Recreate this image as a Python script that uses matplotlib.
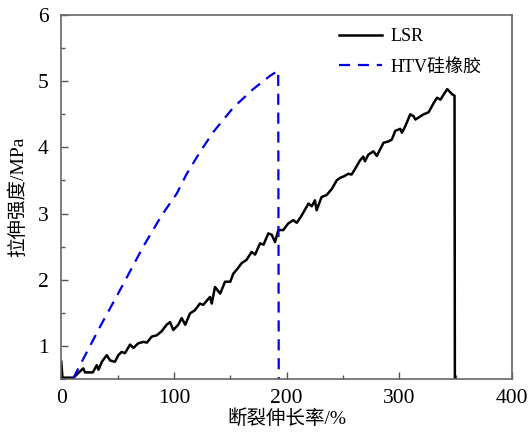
import matplotlib
matplotlib.use("Agg")
import matplotlib.pyplot as plt
from matplotlib.ticker import MultipleLocator

plt.rcParams['font.family'] = ['Liberation Serif', 'Noto Sans CJK SC', 'DejaVu Sans']
plt.rcParams['axes.unicode_minus'] = False

# LSR curve (elongation %, tensile strength MPa)
lsr_x = [0, 1, 11, 15, 19.5, 21, 28, 31.5, 33, 36, 40.3, 43.3, 47.6, 50.6, 53.6, 56.5,
         61, 64, 68.3, 72.8, 76, 80.2, 84.7, 89, 93.5, 96.5, 99.4, 103.8, 106.8, 110,
         114.2, 118.6, 123, 126, 132, 133.5, 136.4, 141, 145.3, 150, 152.6, 157, 160,
         164.4, 168.9, 172, 176.4, 179.5, 183.7, 186.7, 189.7, 192.6, 197, 201.4, 205.9,
         209, 213.3, 219.3, 222.3, 225.1, 226.6, 231, 235.5, 240, 244.4, 247.5, 250.5,
         254.7, 257.7, 260.6, 265, 268, 269.5, 272.5, 277, 280, 283, 286, 290.5, 293.4,
         296.4, 300.8, 302.3, 305.3, 309.7, 312.7, 314.2, 317, 321.6, 326, 330.5, 333.5,
         336.5, 339.4, 342.5, 345.4, 347, 349, 349.3]
lsr_y = [0.76, 0.52, 0.52, 0.59, 0.66, 0.60, 0.60, 0.71, 0.64, 0.76, 0.86, 0.78, 0.76, 0.86, 0.91, 0.89,
         1.02, 0.97, 1.04, 1.06, 1.05, 1.14, 1.16, 1.22, 1.32, 1.36, 1.24, 1.32, 1.42, 1.32,
         1.49, 1.54, 1.64, 1.62, 1.74, 1.64, 1.89, 1.79, 1.97, 1.97, 2.09, 2.18, 2.25,
         2.30, 2.42, 2.38, 2.55, 2.53, 2.70, 2.68, 2.57, 2.75, 2.75, 2.85, 2.90,
         2.86, 2.97, 3.15, 3.11, 3.20, 3.05, 3.25, 3.28, 3.37, 3.50, 3.54, 3.56,
         3.60, 3.59, 3.67, 3.80, 3.86, 3.79, 3.89, 3.94, 3.87, 3.97, 4.07, 4.09, 4.12,
         4.25, 4.28, 4.22, 4.32, 4.50, 4.47, 4.42, 4.45, 4.50, 4.53, 4.67, 4.75,
         4.72, 4.80, 4.88, 4.83, 4.80, 4.78, 0.5]

# HTV silicone rubber curve
htv_x = [10.5, 34.4, 52, 72.7, 89, 102.4, 111.3, 123.1, 134.8, 152.6, 170.3, 185.2, 192.5, 193]
htv_y = [0.51, 1.29, 1.84, 2.50, 2.97, 3.30, 3.60, 3.93, 4.23, 4.60, 4.88, 5.08, 5.16, 0.5]

x_ticks = [0, 100, 200, 300, 400]
y_ticks = [1, 2, 3, 4, 5, 6]

fig = plt.figure(figsize=(5.29, 4.34), dpi=100)
ax = fig.add_axes([61.3/529, 1-379/434, (512-61.3)/529, (379-15)/434])

ax.plot(lsr_x, lsr_y, color='black', lw=1.8, label='LSR')
ax.plot(htv_x, htv_y, color='#0000ee', lw=1.6, ls=(0, (5, 3.5)), label='HTV硅橡胶')

ax.set_xlim(0, 400)
ax.set_ylim(0.5, 6)
ax.set_xticks(x_ticks)
ax.set_yticks(y_ticks)
ax.xaxis.set_minor_locator(MultipleLocator(50))
ax.yaxis.set_minor_locator(MultipleLocator(0.5))
ax.tick_params(which='both', direction='in', top=False, right=False, colors='#555555',
               labelcolor='black', labelsize=15.5)
ax.tick_params(axis='x', which='major', length=5, width=1, pad=7)
ax.tick_params(axis='y', which='major', length=5, width=1, pad=9)
ax.tick_params(which='minor', length=3, width=1)
for s in ax.spines.values():
    s.set_color('#666666')
    s.set_linewidth(1.2)

ax.set_xlabel('断裂伸长率/%', fontsize=14, labelpad=1)
ax.set_ylabel('拉伸强度/MPa', fontsize=14, labelpad=8)

leg = ax.legend(loc='upper left', bbox_to_anchor=(339/529, 1-28/434),
                bbox_transform=fig.transFigure, frameon=False, fontsize=13,
                handlelength=2.4, handletextpad=0.45, labelspacing=0.75,
                borderpad=0, borderaxespad=0)

fig.savefig('out.png', dpi=100)
